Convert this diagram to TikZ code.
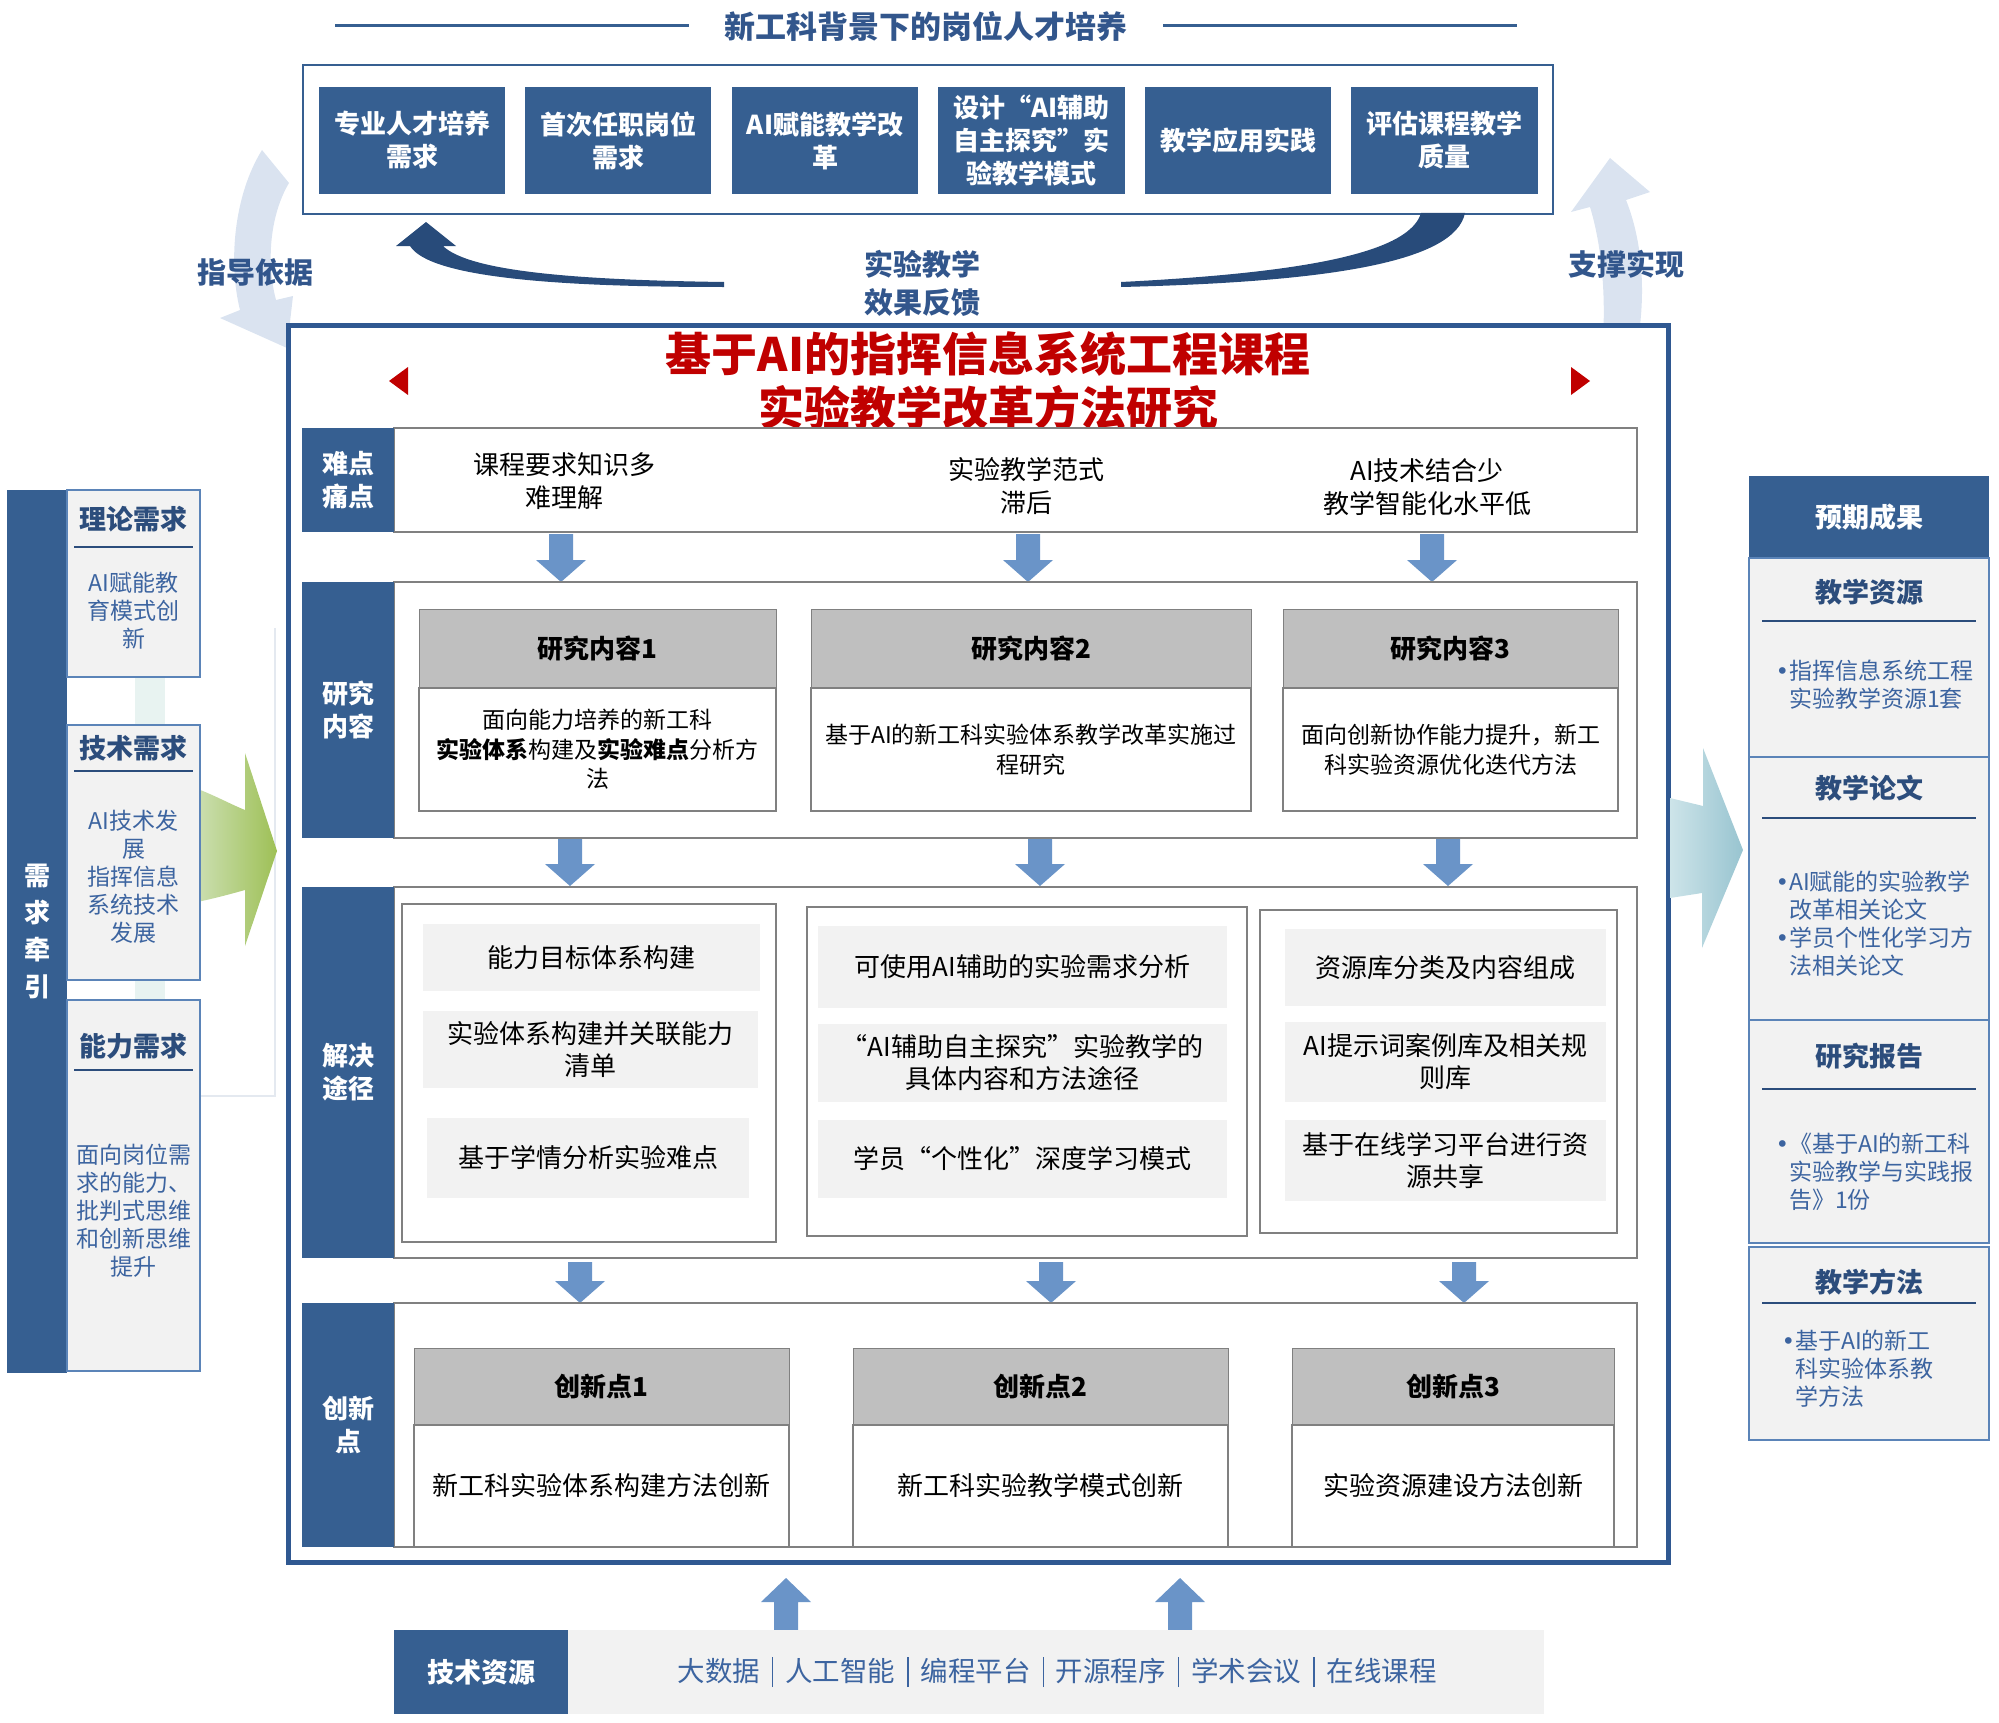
\documentclass[tikz,border=0pt]{standalone}
\usepackage{fontspec}
\setmainfont{Noto Sans CJK SC}
\newfontfamily\dejavu{DejaVu Sans}
\definecolor{mainblue}{RGB}{54,95,145}
\definecolor{framblue}{RGB}{47,88,145}
\definecolor{titleblue}{RGB}{50,86,140}
\definecolor{arrowblue}{RGB}{106,148,200}
\definecolor{darkcurve}{RGB}{40,75,122}
\definecolor{paleblue}{RGB}{218,227,240}
\definecolor{panelborder}{RGB}{91,132,184}
\definecolor{bodyblue}{RGB}{60,100,160}
\definecolor{headblue}{RGB}{44,77,124}
\definecolor{lightgray}{RGB}{242,242,242}
\definecolor{hdrgray}{RGB}{191,191,191}
\definecolor{linegray}{RGB}{128,128,128}
\definecolor{redtitle}{RGB}{192,0,0}
\definecolor{greenA}{RGB}{236,245,242}
\definecolor{greenB}{RGB}{158,192,86}
\definecolor{tealA}{RGB}{205,228,233}
\definecolor{tealB}{RGB}{152,196,208}
\definecolor{faintteal}{RGB}{232,243,241}
\definecolor{faintline}{RGB}{228,233,240}
\newcommand\fs[2]{\fontsize{#1}{#2}\selectfont}
\newcommand\bul{{\dejavu •}}
\newcommand\nobul{\phantom{\bul}}
\newcommand\bx[7]{\node[#2,inner sep=0pt,outer sep=0pt,minimum width={#5pt-#3pt},minimum height={#6pt-#4pt}] (#1) at ({(#3+#5)/2},{(#4+#6)/2}) {#7};}
\newcommand\blkdown[3]{\fill[arrowblue] (#1-12,#2) -- (#1+12,#2) -- (#1+12,#3-22) -- (#1+25,#3-22) -- (#1,#3) -- (#1-25,#3-22) -- (#1-12,#3-22) -- cycle;}
\newcommand\blkup[3]{\fill[arrowblue] (#1-12,#2) -- (#1+12,#2) -- (#1+12,#3+24) -- (#1+25,#3+24) -- (#1,#3) -- (#1-25,#3+24) -- (#1-12,#3+24) -- cycle;}
\newcommand\barsep{\hspace{12pt}\rule[-6pt]{1.3pt}{30pt}\hspace{12pt}}
\begin{document}
\begin{tikzpicture}[x=1pt,y=-1pt,
  darkbox/.style={fill=mainblue,text=white,font=\bfseries\fs{26}{33},align=center},
  rowlabel/.style={fill=mainblue,text=white,font=\bfseries\fs{26}{33},align=center},
  rowbox/.style={draw=linegray,line width=1.2pt,fill=white},
  hdr/.style={fill=hdrgray,draw=linegray,line width=1pt,font=\bfseries\fs{26}{32},align=center},
  bodybox/.style={draw=linegray,line width=1.2pt,fill=white,align=center,font=\fs{26}{32}},
  item/.style={fill=lightgray,font=\fs{26}{32},align=center},
  plaintext/.style={font=\fs{26}{33},align=center},
  panel/.style={draw=panelborder,line width=2pt,fill=lightgray},
  panelhead/.style={text=headblue,font=\bfseries\fs{27}{32}},
  paneltext/.style={text=bodyblue,font=\fs{23}{28}},
  bluelabel/.style={text=titleblue,font=\bfseries\fs{29}{38},align=center}]
\useasboundingbox (0,0) rectangle (1999,1723);

% ---------- top title ----------
\node[text=titleblue,font=\bfseries\fs{31}{36}] (toptitle) at (926,26) {新工科背景下的岗位人才培养};
\draw[mainblue,line width=3pt] (335,26) -- (689,26);
\draw[mainblue,line width=3pt] (1163,26) -- (1517,26);

% ---------- pale curved arrows ----------
\fill[paleblue] (262,150) -- (289,183) .. controls (270,215) and (266,262) .. (276,300) -- (293,296) -- (287,348) -- (220,318) -- (240,310) .. controls (228,262) and (234,195) .. (262,150) -- cycle;
\fill[paleblue] (1603,340) .. controls (1606,285) and (1600,240) .. (1590,207) -- (1571,212) -- (1610,158) -- (1650,192) -- (1626,200) .. controls (1642,240) and (1646,290) .. (1638,340) -- cycle;
\node[bluelabel] (lblguide) at (255,272) {指导依据};
\node[bluelabel] (lblsupport) at (1626,264) {支撑实现};

% ---------- top box ----------
\bx{topbox}{draw=mainblue,line width=2pt,fill=white}{303}{65}{1553}{214}{}
\bx{t1}{darkbox}{319}{87}{505}{194}{专业人才培养\\需求}
\bx{t2}{darkbox}{525}{87}{711}{194}{首次任职岗位\\需求}
\bx{t3}{darkbox}{732}{87}{918}{194}{AI赋能教学改\\革}
\bx{t4}{darkbox}{938}{87}{1125}{194}{设计“AI辅助\\自主探究”实\\验教学模式}
\bx{t5}{darkbox}{1145}{87}{1331}{194}{教学应用实践}
\bx{t6}{darkbox}{1351}{87}{1538}{194}{评估课程教学\\质量}

% ---------- dark feedback curves ----------
\fill[darkcurve] (426,222) -- (456,246) -- (443,246) .. controls (470,272) and (580,280) .. (724,282) -- (724,287) .. controls (560,287) and (430,278) .. (410,246) -- (396,246) -- cycle;
\fill[darkcurve] (1421,213) -- (1465,213) .. controls (1455,262) and (1330,282) .. (1121,287) -- (1121,282) .. controls (1320,272) and (1410,250) .. (1421,213) -- cycle;
\node[bluelabel] (lblfeedback) at (922,283) {实验教学\\效果反馈};

% ---------- left side decorations ----------
\fill[faintteal] (135,660) rectangle (165,1020);
\draw[faintline,line width=1.5pt] (275,628) -- (275,1096) -- (200,1096);
\shade[left color=greenA,right color=greenB] (140,775) .. controls (190,780) and (220,800) .. (245,810) -- (245,753) -- (277,851) -- (245,946) -- (245,890) .. controls (220,897) and (190,905) .. (140,912) -- cycle;

% ---------- left panel ----------
\bx{needbar}{fill=mainblue,text=white,font=\bfseries\fs{26}{37},align=center}{7}{490}{67}{1373}{需\\求\\牵\\引}
\bx{lp1}{panel}{67}{490}{200}{677}{}
\bx{lp2}{panel}{67}{725}{200}{980}{}
\bx{lp3}{panel}{67}{1000}{200}{1371}{}
\node[panelhead] (lp1h) at (133.5,519) {理论需求};
\node[panelhead] (lp2h) at (133.5,748) {技术需求};
\node[panelhead] (lp3h) at (133.5,1046) {能力需求};
\draw[headblue,line width=2.5pt] (74,547) -- (193,547);
\draw[headblue,line width=2.5pt] (74,771) -- (193,771);
\draw[headblue,line width=2.5pt] (74,1070) -- (193,1070);
\node[paneltext,align=center] (lp1t) at (133.5,611) {AI赋能教\\育模式创\\新};
\node[paneltext,align=center] (lp2t) at (133.5,877) {AI技术发\\展\\指挥信息\\系统技术\\发展};
\node[paneltext,align=center] (lp3t) at (133.5,1211) {面向岗位需\\求的能力、\\批判式思维\\和创新思维\\提升};

% ---------- main frame ----------
\bx{mainbox}{draw=framblue,line width=5pt,fill=white}{288}{325}{1668}{1562}{}
\node[text=redtitle,font=\bfseries\fs{46}{54},align=center] (maintitle) at (988,381) {基于AI的指挥信息系统工程课程\\实验教学改革方法研究};
\fill[redtitle] (389,381) -- (408,367) -- (408,395) -- cycle;
\fill[redtitle] (1590,381) -- (1571,367) -- (1571,395) -- cycle;

% ---------- right teal arrow ----------
\shade[left color=tealA,right color=tealB] (1670,798) -- (1703,806) -- (1703,748) -- (1743,850) -- (1702,948) -- (1702,893) -- (1670,898) -- cycle;

% ---------- row 1 ----------
\bx{r1box}{rowbox}{394}{428}{1637}{532}{}
\bx{r1lab}{rowlabel}{302}{428}{394}{532}{难点\\痛点}
\node[plaintext] (p1) at (564,481) {课程要求知识多\\难理解};
\node[plaintext] (p2) at (1026,486) {实验教学范式\\滞后};
\node[plaintext] (p3) at (1427,487) {AI技术结合少\\教学智能化水平低};
\blkdown{561}{534}{582}
\blkdown{1028}{534}{582}
\blkdown{1432}{534}{582}

% ---------- row 2 ----------
\bx{r2box}{rowbox}{394}{582}{1637}{838}{}
\bx{r2lab}{rowlabel}{302}{582}{394}{838}{研究\\内容}
\bx{c1h}{hdr}{419}{609}{776}{688}{研究内容1}
\bx{c2h}{hdr}{811}{609}{1251}{688}{研究内容2}
\bx{c3h}{hdr}{1283}{609}{1618}{688}{研究内容3}
\bx{c1b}{bodybox,font=\fs{23}{29.5}}{419}{688}{776}{811}{面向能力培养的新工科\\\textbf{实验体系}构建及\textbf{实验难点}分析方\\法}
\bx{c2b}{bodybox,font=\fs{23}{30}}{811}{688}{1251}{811}{基于AI的新工科实验体系教学改革实施过\\程研究}
\bx{c3b}{bodybox,font=\fs{23}{30}}{1283}{688}{1618}{811}{面向创新协作能力提升，新工\\科实验资源优化迭代方法}
\blkdown{570}{839}{886}
\blkdown{1040}{839}{886}
\blkdown{1448}{839}{886}

% ---------- row 3 ----------
\bx{r3box}{rowbox}{394}{887}{1637}{1258}{}
\bx{r3lab}{rowlabel}{302}{887}{394}{1258}{解决\\途径}
\bx{s1}{bodybox}{402}{904}{776}{1242}{}
\bx{s2}{bodybox}{807}{907}{1247}{1236}{}
\bx{s3}{bodybox}{1260}{910}{1617}{1233}{}
\bx{s1a}{item}{423}{924}{760}{991}{能力目标体系构建}
\bx{s1b}{item}{423}{1011}{758}{1088}{实验体系构建并关联能力\\清单}
\bx{s1c}{item}{427}{1118}{749}{1198}{基于学情分析实验难点}
\bx{s2a}{item}{818}{926}{1227}{1008}{可使用AI辅助的实验需求分析}
\bx{s2b}{item}{818}{1024}{1227}{1102}{“AI辅助自主探究”实验教学的\\具体内容和方法途径}
\bx{s2c}{item}{818}{1120}{1227}{1198}{学员“个性化”深度学习模式}
\bx{s3a}{item}{1285}{929}{1606}{1006}{资源库分类及内容组成}
\bx{s3b}{item}{1285}{1022}{1606}{1102}{AI提示词案例库及相关规\\则库}
\bx{s3c}{item}{1285}{1120}{1606}{1201}{基于在线学习平台进行资\\源共享}
\blkdown{580}{1262}{1303}
\blkdown{1051}{1262}{1303}
\blkdown{1464}{1262}{1303}

% ---------- row 4 ----------
\bx{r4box}{rowbox}{394}{1303}{1637}{1547}{}
\bx{r4lab}{rowlabel}{302}{1303}{394}{1547}{创新\\点}
\bx{i1h}{hdr}{414}{1348}{789}{1425}{创新点1}
\bx{i2h}{hdr}{853}{1348}{1228}{1425}{创新点2}
\bx{i3h}{hdr}{1292}{1348}{1614}{1425}{创新点3}
\bx{i1b}{bodybox}{414}{1425}{789}{1547}{新工科实验体系构建方法创新}
\bx{i2b}{bodybox}{853}{1425}{1228}{1547}{新工科实验教学模式创新}
\bx{i3b}{bodybox}{1292}{1425}{1614}{1547}{实验资源建设方法创新}

% ---------- technical resources ----------
\blkup{786}{1630}{1578}
\blkup{1180}{1630}{1578}
\bx{techbar}{fill=lightgray}{568}{1630}{1544}{1714}{}
\bx{techlab}{fill=mainblue,text=white,font=\bfseries\fs{27}{32}}{394}{1630}{568}{1714}{技术资源}
\node[text=bodyblue,font=\fs{27.5}{32}] (techtext) at (1057,1672) {大数据\barsep 人工智能\barsep 编程平台\barsep 开源程序\barsep 学术会议\barsep 在线课程};

% ---------- right panel ----------
\bx{rph}{fill=mainblue,text=white,font=\bfseries\fs{27}{32}}{1749}{476}{1989}{558}{预期成果}
\bx{rp1}{panel}{1749}{558}{1989}{757}{}
\bx{rp2}{panel}{1749}{757}{1989}{1020}{}
\bx{rp3}{panel}{1749}{1020}{1989}{1243}{}
\bx{rp4}{panel,line width=2.5pt}{1749}{1247}{1989}{1440}{}
\node[panelhead] (rp1h) at (1869,592) {教学资源};
\node[panelhead] (rp2h) at (1869,788) {教学论文};
\node[panelhead] (rp3h) at (1869,1056) {研究报告};
\node[panelhead] (rp4h) at (1869,1282) {教学方法};
\draw[headblue,line width=2.5pt] (1762,621) -- (1976,621);
\draw[headblue,line width=2.5pt] (1762,818) -- (1976,818);
\draw[headblue,line width=2.5pt] (1762,1089) -- (1976,1089);
\draw[headblue,line width=2.5pt] (1762,1303) -- (1976,1303);
\node[paneltext,align=left,anchor=west] (rp1t) at (1772,685) {\bul 指挥信息系统工程\\\nobul 实验教学资源1套};
\node[paneltext,align=left,anchor=west] (rp2t) at (1772,924) {\bul AI赋能的实验教学\\\nobul 改革相关论文\\\bul 学员个性化学习方\\\nobul 法相关论文};
\node[paneltext,align=left,anchor=west] (rp3t) at (1772,1172) {\bul 《基于AI的新工科\\\nobul 实验教学与实践报\\\nobul 告》1份};
\node[paneltext,align=left,anchor=west] (rp4t) at (1778,1369) {\bul 基于AI的新工\\\nobul 科实验体系教\\\nobul 学方法};
\end{tikzpicture}
\end{document}
